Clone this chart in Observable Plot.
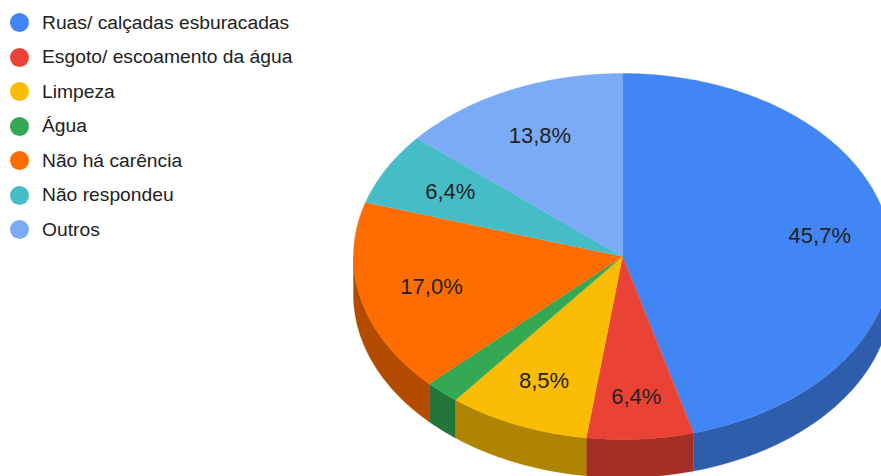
<!DOCTYPE html>
<html lang="pt-BR">
<head>
<meta charset="utf-8">
<script src="https://cdn.jsdelivr.net/npm/d3@7"></script>
<script src="https://cdn.jsdelivr.net/npm/@observablehq/plot@0.6"></script>
<style>
  html, body { margin: 0; padding: 0; background: #fff; overflow: hidden; }
  #chart { position: relative; width: 881px; height: 476px; }
  #legend {
    position: absolute; left: 9.5px; top: 5.5px;
    font: 19.25px "Liberation Sans", Arial, sans-serif; color: #222;
  }
  #legend div { display: flex; align-items: center; height: 34.5px; white-space: nowrap; }
  #legend i { width: 19px; height: 19px; border-radius: 50%; margin-right: 13.5px; flex: none; }
</style>
</head>
<body>
<div id="chart"></div>
<script>
// Principais carências do bairro, em porcentagem das respostas
const categories = [
  "Ruas/ calçadas esburacadas",
  "Esgoto/ escoamento da água",
  "Limpeza",
  "Água",
  "Não há carência",
  "Não respondeu",
  "Outros"
];
const shares = [45.7, 6.4, 8.5, 2.1, 17.0, 6.4, 13.8];
const topColors = ["#4285f4", "#ea4335", "#fbbc04", "#34a853", "#ff6d01", "#46bdc6", "#7baaf7"];
const wallColors = ["#2e5dab", "#a32f25", "#b08403", "#24753a", "#b34c01", "#318489", "#5677ad"];
const hiddenLabels = ["Água"];
// How far along the radius each percentage sits, and its vertical nudge in pixels
const labelRadii = [0.74, 0.775, 0.745, 0.73, 0.73, 0.73, 0.73];
const labelRise = [2.5, 1, 1, 0, 1, 0, -1];

// Layout of the tilted disc, in pixels
const width = 881, height = 476;
const cx = 622, cy = 256, rx = 269, ry = 183, depth = 38;

const slices = d3.pie().sort(null).value((_, i) => shares[i])(categories);
const front = [Math.PI / 2, Math.PI * 3 / 2];

// Unit-circle coordinates: angle 0 points up, angles grow clockwise
const arc = (a0, a1, drop = 0) => {
  const steps = Math.max(2, Math.ceil((a1 - a0) / 0.01));
  return d3.range(steps + 1).map(i => {
    const a = a0 + (a1 - a0) * i / steps;
    return {x: Math.sin(a), y: Math.cos(a) - drop};
  });
};

const wedge = s => [{x: 0, y: 0}, ...arc(s.startAngle, s.endAngle)];
const wall = s => {
  const a0 = Math.max(s.startAngle, front[0]);
  const a1 = Math.min(s.endAngle, front[1]);
  if (a1 <= a0) return null;
  return [...arc(a0, a1), ...arc(a0, a1, depth / ry).reverse()];
};

const walls = slices.flatMap((s, i) => {
  const pts = wall(s);
  return pts ? [Plot.line(pts, {x: "x", y: "y", fill: wallColors[i], stroke: wallColors[i], strokeWidth: 0.4})] : [];
});
const tops = slices.map((s, i) =>
  Plot.line(wedge(s), {x: "x", y: "y", fill: topColors[i], stroke: topColors[i], strokeWidth: 0.4})
);

const labelData = slices
  .filter(s => !hiddenLabels.includes(s.data))
  .map(s => {
    const mid = (s.startAngle + s.endAngle) / 2;
    const i = categories.indexOf(s.data);
    const r = labelRadii[i];
    return {
      x: r * Math.sin(mid),
      y: r * Math.cos(mid) + labelRise[i] / ry,
      text: s.value.toFixed(1).replace(".", ",") + "%"
    };
  });

const chart = Plot.plot({
  width, height,
  margin: 0,
  x: {axis: null, domain: [-cx / rx, (width - cx) / rx], range: [0, width]},
  y: {axis: null, domain: [cy / ry, (cy - height) / ry], range: [0, height]},
  marks: [
    ...walls,
    ...tops,
    Plot.text(labelData, {
      x: "x", y: "y", text: "text",
      fontSize: 22,
      fontFamily: "'Liberation Sans', Arial, sans-serif",
      fill: "#222"
    })
  ]
});

const host = document.getElementById("chart");
host.append(chart);

// Legend beside the disc
const legend = document.createElement("div");
legend.id = "legend";
categories.forEach((name, i) => {
  const row = document.createElement("div");
  const swatch = document.createElement("i");
  swatch.style.background = topColors[i];
  row.append(swatch, document.createTextNode(name));
  legend.append(row);
});
host.append(legend);
</script>
</body>
</html>
